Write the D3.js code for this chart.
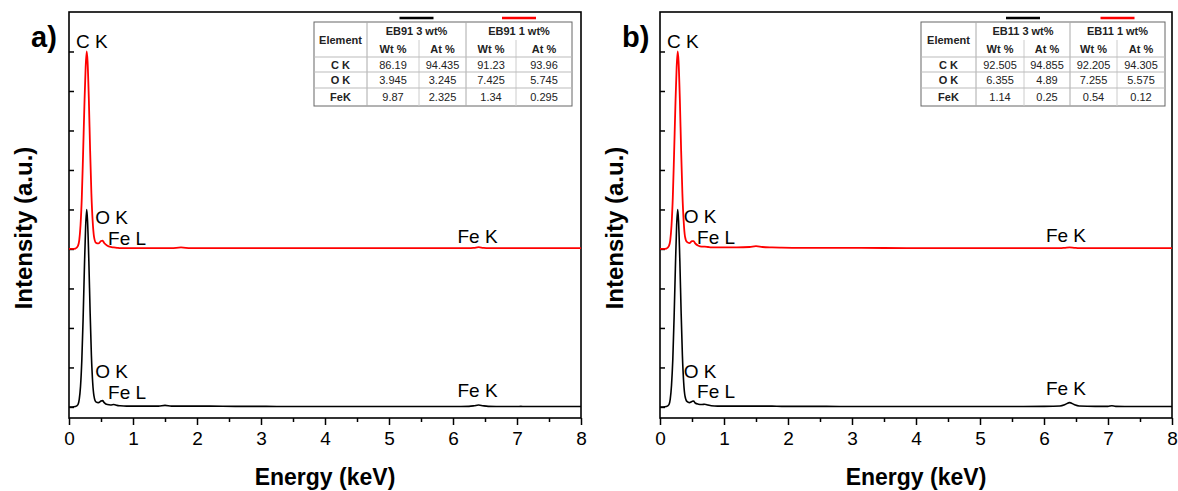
<!DOCTYPE html>
<html><head><meta charset="utf-8">
<script src="https://cdn.jsdelivr.net/npm/d3@7"></script>
<style>body{margin:0;background:#fff}svg{display:block}text{font-family:Arial,"Liberation Sans",sans-serif}</style>
</head><body>
<svg id="c" width="1178" height="491"></svg>
<script>
// ---------------- data ----------------
const energy = [0,0.05,0.10,0.14,0.16,0.18,0.20,0.22,0.24,0.26,0.277,0.29,0.31,0.33,0.35,0.37,0.39,0.42,0.46,0.50,0.525,0.55,0.60,0.65,0.70,0.75,0.80,0.90,1.0,1.2,1.4,1.5,1.6,1.75,1.9,2.2,2.6,3.0,3.5,4.0,4.5,5.0,5.5,6.0,6.25,6.33,6.40,6.47,6.55,6.8,7.0,7.06,7.12,7.4,8.0];
const blackA = [0,0,0.01,0.06,0.19,0.52,1.17,2.2,3.48,4.57,5.0,4.7,3.7,2.4,1.3,0.62,0.28,0.13,0.11,0.15,0.16,0.11,0.06,0.05,0.06,0.04,0.03,0.02,0.02,0.02,0.02,0.04,0.02,0.02,0.02,0.02,0.015,0.015,0.01,0.01,0.01,0.01,0.01,0.01,0.015,0.03,0.05,0.03,0.015,0.01,0.01,0.015,0.01,0.01,0.01];
const redA = [0,0,0.01,0.08,0.22,0.6,1.3,2.4,3.6,4.6,5.0,4.75,3.8,2.5,1.4,0.7,0.32,0.16,0.14,0.2,0.21,0.15,0.08,0.05,0.04,0.03,0.02,0.02,0.02,0.02,0.02,0.02,0.02,0.04,0.02,0.02,0.02,0.02,0.02,0.02,0.02,0.02,0.02,0.02,0.02,0.03,0.045,0.03,0.02,0.02,0.02,0.02,0.02,0.02,0.02];
const blackB = [0,0,0.01,0.06,0.2,0.55,1.2,2.25,3.5,4.6,5.0,4.7,3.7,2.4,1.3,0.62,0.28,0.14,0.11,0.14,0.15,0.1,0.07,0.06,0.07,0.05,0.03,0.02,0.02,0.02,0.02,0.02,0.02,0.02,0.015,0.015,0.015,0.01,0.01,0.01,0.01,0.01,0.01,0.015,0.025,0.06,0.11,0.06,0.025,0.015,0.015,0.03,0.015,0.01,0.01];
const redB = [0,0,0.01,0.08,0.22,0.6,1.3,2.4,3.6,4.6,5.0,4.75,3.8,2.5,1.4,0.7,0.32,0.18,0.15,0.2,0.2,0.14,0.08,0.06,0.06,0.05,0.04,0.04,0.04,0.04,0.05,0.07,0.05,0.04,0.035,0.03,0.03,0.03,0.025,0.02,0.02,0.02,0.02,0.02,0.02,0.03,0.04,0.03,0.02,0.02,0.02,0.02,0.02,0.02,0.02];
const redOffset = 4;
const xTicks = [0,1,2,3,4,5,6,7,8];
const xMinorTicks = [0.5,1.5,2.5,3.5,4.5,5.5,6.5,7.5];
const yTicks = [0,1,2,3,4,5,6,7,8,9];
const panelLetters = ["a)","b)"];
const xTitle = "Energy (keV)";
const yTitle = "Intensity (a.u.)";
const peakLabelsA = [
  {t:"C K",e:0.11,v:9.1},{t:"O K",e:0.41,v:4.63},{t:"Fe L",e:0.61,v:4.1},{t:"Fe K",e:6.07,v:4.15},
  {t:"O K",e:0.41,v:0.73},{t:"Fe L",e:0.61,v:0.2},{t:"Fe K",e:6.07,v:0.25}];
const peakLabelsB = [
  {t:"C K",e:0.11,v:9.1},{t:"O K",e:0.37,v:4.66},{t:"Fe L",e:0.58,v:4.13},{t:"Fe K",e:6.03,v:4.18},
  {t:"O K",e:0.37,v:0.73},{t:"Fe L",e:0.58,v:0.23},{t:"Fe K",e:6.03,v:0.3}];
const tableGroupsA = ["EB91 3 wt%","EB91 1 wt%"];
const tableGroupsB = ["EB11 3 wt%","EB11 1 wt%"];
const subHeads = ["Wt %","At %","Wt %","At %"];
const elements = ["C K","O K","FeK"];
const tableValsA = [["86.19","94.435","91.23","93.96"],["3.945","3.245","7.425","5.745"],["9.87","2.325","1.34","0.295"]];
const tableValsB = [["92.505","94.855","92.205","94.305"],["6.355","4.89","7.255","5.575"],["1.14","0.25","0.54","0.12"]];

// ---------------- drawing ----------------
const svg = d3.select("#c");
const panels = [
  {x0:69,x1:581,black:blackA,red:redA,labels:peakLabelsA,letter:panelLetters[0],
   groups:tableGroupsA,vals:tableValsA,cols:[314,367,419,466,516,572]},
  {x0:660,x1:1172,black:blackB,red:redB,labels:peakLabelsB,letter:panelLetters[1],
   groups:tableGroupsB,vals:tableValsB,cols:[921,976,1024,1070,1117,1165]}
];
const yTop = 12, yBot = 418;
const rows = [22,40,57,72,88,106];

panels.forEach(p => {
  const x = d3.scaleLinear().domain([0,8]).range([p.x0,p.x1]);
  const y = d3.scaleLinear().domain([-0.28,10]).range([yBot,yTop]);
  const g = svg.append("g");

  // x axis
  const xa = g.append("g").attr("transform",`translate(0,${yBot})`)
    .call(d3.axisBottom(x).tickValues(xTicks).tickSize(7).tickPadding(7).tickFormat(d3.format("d")));
  xa.select(".domain").remove();
  xa.selectAll("line").attr("stroke","#000").attr("stroke-width",1.5);
  xa.selectAll("text").attr("font-size",19).attr("fill","#000").attr("font-family","Arial, 'Liberation Sans', sans-serif");
  const xm = g.append("g").attr("transform",`translate(0,${yBot})`)
    .call(d3.axisBottom(x).tickValues(xMinorTicks).tickSize(4).tickFormat(""));
  xm.select(".domain").remove();
  xm.selectAll("line").attr("stroke","#000").attr("stroke-width",1.5);

  // y axis ticks (inward, no labels)
  const ya = g.append("g").attr("transform",`translate(${p.x0},0)`)
    .call(d3.axisLeft(y).tickValues(yTicks).tickSize(-5).tickFormat(""));
  ya.select(".domain").remove();
  ya.selectAll("line").attr("stroke","#000").attr("stroke-width",1.5);

  // frame
  g.append("rect").attr("x",p.x0).attr("y",yTop).attr("width",p.x1-p.x0).attr("height",yBot-yTop)
    .attr("fill","none").attr("stroke","#000").attr("stroke-width",1.6);

  // spectra
  const line = d3.line().curve(d3.curveMonotoneX).x((d,i)=>x(energy[i])).y(d=>y(d));
  g.append("path").datum(p.black).attr("d",line).attr("fill","none").attr("stroke","#000").attr("stroke-width",1.6);
  g.append("path").datum(p.red.map(v=>v+redOffset)).attr("d",line).attr("fill","none").attr("stroke","#f00").attr("stroke-width",1.8);

  // peak labels
  g.selectAll("text.pk").data(p.labels).join("text").attr("class","pk")
    .attr("x",d=>x(d.e)).attr("y",d=>y(d.v)).attr("font-size",19).attr("fill","#000").text(d=>d.t);

  // panel letter
  g.append("text").attr("x",p.x0-38).attr("y",47).attr("font-size",29).attr("font-weight","bold").text(p.letter);

  // titles
  g.append("text").attr("x",(p.x0+p.x1)/2).attr("y",485).attr("text-anchor","middle")
    .attr("font-size",23).attr("font-weight","bold").text(xTitle);
  g.append("text").attr("transform",`translate(${p.x0-37},228) rotate(-90)`).attr("text-anchor","middle")
    .attr("font-size",24).attr("font-weight","bold").text(yTitle);

  // table
  const c = p.cols, t = g.append("g");
  t.append("rect").attr("x",c[0]).attr("y",rows[0]).attr("width",c[5]-c[0]).attr("height",rows[5]-rows[0])
    .attr("fill","#fff").attr("stroke","#666").attr("stroke-width",1);
  [c[1],c[3]].forEach(xx=>t.append("line").attr("x1",xx).attr("x2",xx).attr("y1",rows[0]).attr("y2",rows[5]).attr("stroke","#aaa"));
  [c[2],c[4]].forEach(xx=>t.append("line").attr("x1",xx).attr("x2",xx).attr("y1",rows[1]).attr("y2",rows[5]).attr("stroke","#ccc"));
  [rows[2],rows[3],rows[4]].forEach(yy=>t.append("line").attr("x1",c[0]).attr("x2",c[5]).attr("y1",yy).attr("y2",yy).attr("stroke","#bbb"));
  const mid = (a,b)=>(a+b)/2;
  t.append("text").attr("x",mid(c[0],c[1])).attr("y",mid(rows[0],rows[2])+4).attr("text-anchor","middle")
    .attr("font-size",11).attr("font-weight","bold").attr("fill","#222").text("Element");
  p.groups.forEach((gname,i)=>{
    const xa0 = c[1+2*i], xa1 = c[3+2*i];
    t.append("text").attr("x",mid(xa0,xa1)).attr("y",mid(rows[0],rows[1])+4).attr("text-anchor","middle")
      .attr("font-size",11).attr("font-weight","bold").attr("fill","#222").text(gname);
    t.append("line").attr("x1",mid(xa0,xa1)-17).attr("x2",mid(xa0,xa1)+17).attr("y1",18).attr("y2",18)
      .attr("stroke",i===0?"#000":"#f00").attr("stroke-width",2.5);
  });
  subHeads.forEach((s,j)=>{
    t.append("text").attr("x",mid(c[1+j],c[2+j])).attr("y",mid(rows[1],rows[2])+4).attr("text-anchor","middle")
      .attr("font-size",11).attr("font-weight","bold").attr("fill","#222").text(s);
  });
  elements.forEach((el,r)=>{
    const yy = mid(rows[2+r],rows[3+r])+4;
    t.append("text").attr("x",mid(c[0],c[1])).attr("y",yy).attr("text-anchor","middle")
      .attr("font-size",11).attr("font-weight","bold").attr("fill","#222").text(el);
    p.vals[r].forEach((v,j)=>{
      t.append("text").attr("x",mid(c[1+j],c[2+j])).attr("y",yy).attr("text-anchor","middle")
        .attr("font-size",11).attr("fill","#222").text(v);
    });
  });
});
</script>
</body></html>
